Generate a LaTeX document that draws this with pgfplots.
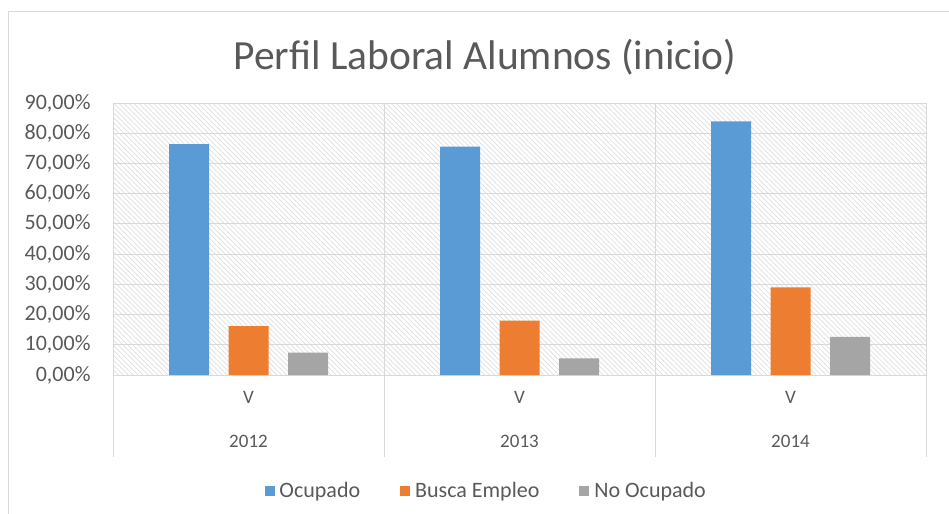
\documentclass[border=0pt]{standalone}
\usepackage{pgfplots}
\pgfplotsset{compat=1.18}
\usepackage{fontspec}
\setmainfont{Carlito}
\usetikzlibrary{patterns.meta}
\definecolor{cblue}{HTML}{5B9BD5}
\definecolor{corange}{HTML}{ED7D31}
\definecolor{cgray}{HTML}{A5A5A5}
\definecolor{ctext}{HTML}{595959}
\definecolor{cgrid}{HTML}{D9D9D9}
\begin{document}
\begin{tikzpicture}
\path[use as bounding box] (0,0) rectangle (949bp,514bp);
\draw[cgrid,line width=1.5bp] (8.5bp,0) -- (8.5bp,502.5bp) -- (949bp,502.5bp);
\node[text=ctext,font=\fontsize{41.5bp}{48bp}\selectfont] at (485bp,457bp) {Perfil Laboral Alumnos (inicio)};
\begin{axis}[
  at={(113bp,139bp)}, anchor=south west,
  scale only axis, width=813bp, height=272bp,
  ybar=19.5bp, bar width=40bp,
  xmin=-0.5, xmax=2.5, ymin=0, ymax=90,
  xtick={0,1,2}, xticklabels={V,V,V},
  ytick={0,10,...,90},
  ymajorgrids, grid style={cgrid,line width=0.8bp},
  major tick length=0pt,
  axis line style={cgrid,line width=0.8bp},
  axis background/.style={pattern={Lines[angle=-45,distance=3.5bp,line width=0.7bp]},pattern color=black!13},
  /pgf/number format/assume math mode=true,
  yticklabel={\pgfmathprintnumber[fixed,fixed zerofill,precision=2,use comma]{\tick}\%},
  ticklabel style={text=ctext,font=\fontsize{19bp}{22bp}\selectfont},
  yticklabel style={xshift=-19bp,font=\fontsize{22bp}{26bp}\selectfont},
  xticklabel style={yshift=-13bp},
  legend style={at={(0.459,0)},anchor=center,yshift=-116bp,draw=none,fill=none,
    font=\fontsize{22bp}{26bp}\selectfont,text=ctext,legend columns=3,
    /tikz/every even column/.append style={column sep=38bp},
    /tikz/every odd column/.append style={column sep=3bp}},
  legend image code/.code={\fill[#1] (0bp,-5bp) rectangle (10bp,5bp);},
  clip=false,
]
\addplot[fill=cblue,draw=none] coordinates {(0,76.4) (1,75.6) (2,83.9)};
\addplot[fill=corange,draw=none] coordinates {(0,16.2) (1,18.0) (2,29.0)};
\addplot[fill=cgray,draw=none] coordinates {(0,7.4) (1,5.5) (2,12.6)};
\legend{Ocupado,Busca Empleo,No Ocupado}
\foreach \xx in {-0.5,0.5,1.5,2.5}{
  \edef\tmp{\noexpand\draw[cgrid,line width=0.8bp] (axis cs:\xx,90) -- ([yshift=-82bp]axis cs:\xx,0);}
  \tmp
}
\node[text=ctext,font=\fontsize{19bp}{22bp}\selectfont] at ([yshift=-66bp]axis cs:0,0) {2012};
\node[text=ctext,font=\fontsize{19bp}{22bp}\selectfont] at ([yshift=-66bp]axis cs:1,0) {2013};
\node[text=ctext,font=\fontsize{19bp}{22bp}\selectfont] at ([yshift=-66bp]axis cs:2,0) {2014};
\end{axis}
\end{tikzpicture}
\end{document}
